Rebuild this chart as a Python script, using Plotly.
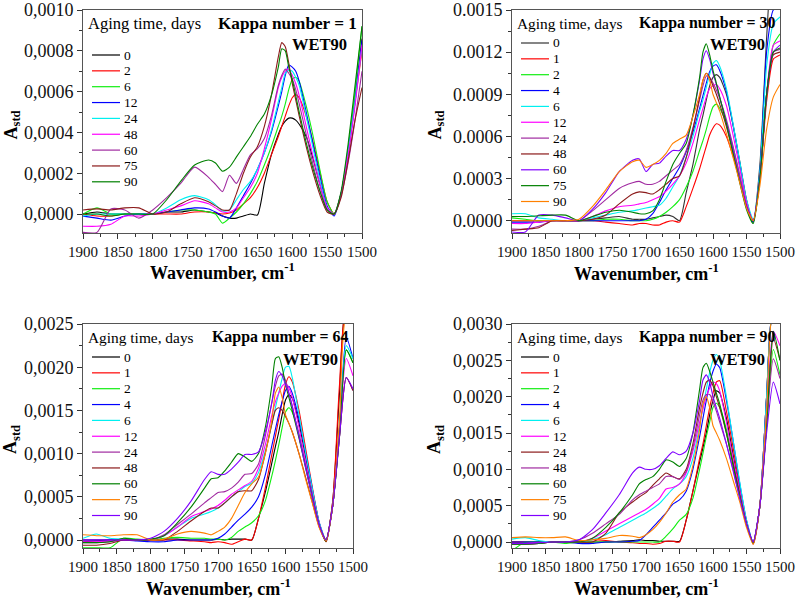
import plotly.graph_objects as go

# ---------------- data (absorbance in units of 1e-4) ----------------
WN = [1900, 1880, 1860, 1840, 1820, 1800, 1780, 1760, 1740, 1720, 1710, 1700, 1690, 1680, 1670,
      1660, 1650, 1640, 1630, 1620, 1615, 1610, 1605, 1600, 1595, 1590, 1580, 1570, 1560, 1550,
      1540, 1530, 1520, 1510, 1500]
UNIT = 1e-4

# Kappa number = 1
p1_labels = ["0", "2", "6", "12", "24", "48", "60", "75", "90"]
p1_d0 = [0, 0.1, 0, 0, 0, 0, 0.1, 0.1, 0.2, 0.1, 0.05, -0.1, -0.2, -0.2, -0.1, 0, -0.05, 1.5, 2.9, 3.9, 4.3, 4.55, 4.7, 4.7, 4.6, 4.4, 3.8, 2.7, 1.4, 0.3, 0, 1.0, 3.0, 5.6, 8.6]
p1_d2 = [0, -0.1, -0.1, 0, 0, 0, 0, 0, 0.1, 0.1, 0.05, 0, 0.05, 0.2, 0.5, 0.8, 1.3, 2.0, 2.9, 3.8, 4.3, 4.8, 5.3, 5.7, 5.85, 5.7, 4.8, 3.5, 2.0, 0.6, 0, 1.0, 3.0, 5.5, 8.0]
p1_d6 = [0, 0.3, 0, 0, 0, 0, 0.1, 0.2, 0.2, 0.1, 0, -0.45, -0.2, 0.1, 0.5, 1.0, 1.6, 2.4, 3.3, 4.3, 4.8, 5.4, 6.1, 6.6, 6.7, 6.5, 5.3, 3.8, 2.1, 0.6, 0, 1.0, 3.2, 6.0, 9.2]
p1_d12 = [-0.1, -0.2, -0.3, -0.1, 0, 0, 0.1, 0.2, 0.3, 0.25, 0.1, -0.1, -0.2, 0.3, 0.9, 1.5, 2.2, 3.0, 4.0, 5.3, 6.0, 6.8, 7.3, 7.2, 7.0, 6.5, 5.0, 3.4, 1.8, 0.4, -0.1, 1.0, 3.0, 5.5, 8.5]
p1_d24 = [-0.1, 0, 0, 0, 0, 0, 0.3, 0.7, 0.9, 0.7, 0.45, 0.15, 0.2, 0.7, 1.2, 1.6, 2.2, 3.0, 4.1, 5.5, 6.2, 6.9, 7.05, 7.0, 6.7, 6.3, 4.8, 3.2, 1.6, 0.3, 0, 1.0, 3.0, 5.5, 8.2]
p1_d48 = [-0.6, -0.6, -0.5, -0.1, -0.1, 0, 0.2, 0.4, 0.65, 0.5, 0.3, 0.1, 0.1, 0.3, 0.8, 1.3, 2.0, 3.2, 4.6, 6.2, 6.7, 7.0, 7.1, 6.8, 6.4, 5.8, 4.3, 2.8, 1.4, 0.3, 0, 1.0, 2.9, 5.3, 8.3]
p1_d60 = [-0.9, -0.9, 0.25, 0.2, -0.2, 0.2, 0.8, 1.5, 2.3, 1.8, 1.45, 1.1, 1.9, 1.5, 2.2, 2.9, 3.2, 3.7, 4.8, 6.3, 6.8, 7.1, 6.9, 6.6, 6.1, 5.4, 3.9, 2.4, 1.1, 0.2, 0, 0.9, 2.5, 4.6, 7.0]
p1_d75 = [0.2, 0.25, 0.2, 0.3, 0.3, 0, 0.1, 0.5, 0.8, 0.6, 0.4, 0.2, 0.2, 1.0, 2.0, 2.8, 3.3, 4.3, 5.8, 7.7, 8.4, 8.2, 7.4, 6.4, 5.6, 4.8, 3.3, 2.0, 0.9, 0.1, 0, 0.8, 2.6, 4.6, 6.2]
p1_d90 = [0, 0, -0.1, 0, 0, 0, 0.7, 1.6, 2.4, 2.65, 2.5, 2.1, 2.3, 2.8, 3.3, 3.8, 4.4, 4.9, 5.8, 7.2, 8.1, 8.0, 7.2, 6.6, 5.8, 5.0, 3.5, 2.2, 1.1, 0.2, 0, 1.1, 3.4, 6.3, 9.2]

# Kappa number = 30
p2_labels = ["0", "1", "2", "4", "6", "12", "24", "48", "60", "75", "90"]
p2_d0 = [0, 0, 0, 0, 0, 0, 0.1, 0.2, 0.3, 0.1, 0.1, 0.1, 0.2, 0.3, 0.4, 0.3, 0, 2.0, 4.0, 6.5, 7.5, 8.6, 9.6, 10.2, 10.4, 10.2, 9.0, 6.8, 4.2, 1.5, -0.1, 4.0, 13.0, 20.0, 22.0]
p2_d1 = [0, 0, 0, 0, 0, 0, 0, -0.1, -0.2, -0.3, -0.2, -0.2, -0.3, -0.3, -0.1, 0, -0.1, 1.0, 2.3, 3.7, 4.5, 5.3, 6.1, 6.6, 6.9, 6.8, 6.0, 4.6, 2.9, 1.0, 0, 3.0, 8.5, 11.5, 11.8]
p2_d2 = [0.2, 0.1, 0, 0, 0, 0, 0, 0.1, 0.1, 0, 0, 0, 0.1, 0.3, 0.6, 1.0, 1.5, 2.4, 3.5, 5.0, 5.7, 6.5, 7.4, 8.1, 8.3, 8.0, 6.9, 5.2, 3.2, 1.1, -0.1, 3.0, 9.0, 12.5, 13.3]
p2_d4 = [-0.1, -0.1, -0.1, 0, 0, 0, 0, 0, 0, 0, 0, 0.1, 0.5, 1.3, 2.2, 3.0, 3.8, 4.9, 6.3, 8.0, 8.9, 9.8, 10.6, 11.0, 11.1, 10.7, 9.2, 6.8, 4.1, 1.4, -0.1, 3.5, 12.0, 15.0, 15.2]
p2_d6 = [0.5, 0.5, 0.2, 0.1, 0, 0, 0.2, 0.4, 0.6, 0.7, 0.8, 0.9, 1.0, 1.1, 1.6, 2.4, 3.2, 4.5, 6.0, 7.8, 8.6, 9.5, 10.4, 11.2, 11.4, 11.0, 9.4, 6.9, 4.2, 1.5, 0.1, 3.5, 11.0, 14.0, 14.5]
p2_d12 = [-0.2, -0.2, -0.1, 0, 0, 0, 0.3, 0.7, 1.0, 1.1, 1.2, 1.3, 1.5, 1.7, 2.1, 2.6, 3.2, 4.1, 5.5, 7.2, 8.0, 8.8, 9.4, 9.6, 9.7, 9.4, 8.2, 6.1, 3.7, 1.3, 0, 3.0, 9.0, 12.5, 12.8]
p2_d24 = [-0.6, -0.6, -0.4, 0, 0, 0, 0.7, 1.5, 2.3, 2.7, 2.8, 2.6, 2.6, 2.8, 3.2, 3.6, 4.0, 5.0, 6.6, 8.6, 9.6, 10.3, 10.2, 9.8, 9.3, 8.7, 7.2, 5.3, 3.2, 1.1, 0, 3.0, 9.0, 12.0, 12.2]
p2_d48 = [-0.7, -0.6, -0.5, 0, 0, 0, 0.1, 0.4, 1.2, 1.9, 2.05, 2.0, 1.9, 2.2, 2.6, 3.0, 3.2, 4.5, 6.5, 8.8, 10.0, 10.5, 10.2, 9.6, 9.0, 8.3, 6.7, 4.8, 2.8, 1.0, 0, 3.0, 9.0, 11.8, 12.0]
p2_d60 = [-0.8, -0.8, 0.4, 0.4, 0.2, 0, 0.8, 2.0, 3.5, 4.3, 4.4, 3.5, 4.0, 4.1, 4.6, 5.0, 5.0, 5.8, 7.5, 10.0, 11.5, 12.1, 11.5, 10.5, 9.7, 8.8, 7.0, 5.0, 2.9, 1.0, 0, 3.0, 9.0, 12.0, 12.5]
p2_d75 = [0.3, 0.3, 0.35, 0.4, 0.4, 0, 0.3, 0.6, 0.75, 0.6, 0.5, 0.5, 0.7, 1.5, 2.8, 4.0, 4.8, 5.5, 7.5, 10.2, 12.0, 12.6, 11.8, 10.7, 9.8, 8.8, 6.9, 4.8, 2.7, 0.8, -0.2, 3.0, 9.0, 12.0, 12.3]
p2_d90 = [0, 0, 0, 0, 0, 0.1, 1.0, 2.2, 3.5, 4.2, 4.3, 3.8, 4.0, 4.3, 4.8, 5.5, 5.8, 6.1, 7.4, 9.0, 10.0, 10.5, 10.0, 9.0, 8.4, 7.8, 6.2, 4.5, 2.7, 0.9, 0, 2.5, 6.5, 8.8, 9.7]

# Kappa number = 64
p3_labels = ["0", "1", "2", "4", "6", "12", "24", "48", "60", "75", "90"]
p3_d0 = [-0.2, -0.1, 0, 0, 0, 0, 0.1, 0.1, 0, 0, 0, 0.1, 0, 0.1, 0.1, 0.1, 0, 2.5, 5.5, 9.0, 10.8, 12.5, 14.5, 16.2, 16.8, 16.4, 13.5, 9.5, 5.5, 1.8, -0.2, 4.5, 17.0, 27.0, 27.0]
p3_d1 = [0, 0, 0, 0, 0, 0, 0, 0, -0.1, -0.2, -0.3, -0.2, -0.3, -0.5, -0.2, 0.1, 0, 2.5, 6.0, 10.0, 12.0, 14.0, 16.0, 18.0, 18.9, 18.3, 15.0, 10.5, 6.0, 2.0, -0.2, 4.5, 18.0, 27.0, 27.0]
p3_d2 = [-0.9, -0.9, -0.9, 0.2, 0.1, 0, 0.2, 0.3, 0.2, 0.2, 0.1, 0.1, 0, 0.3, 1.0, 1.5, 2.0, 2.8, 4.5, 7.5, 9.2, 11.0, 13.0, 14.8, 15.3, 14.8, 12.3, 8.6, 5.0, 1.7, -0.1, 4.0, 13.0, 22.0, 20.5]
p3_d4 = [0, 0, 0, 0, -0.1, -0.2, -0.2, 0, 0, 0, 0, 0.2, 0.7, 1.5, 2.3, 3.0, 3.8, 5.0, 7.5, 11.0, 12.8, 14.5, 16.0, 17.3, 17.8, 17.0, 14.0, 10.0, 5.8, 2.0, 0, 4.0, 13.0, 23.5, 21.0]
p3_d6 = [0.2, 0.7, 0.2, 0.1, 0, 0, 0.5, 1.5, 2.5, 3.0, 3.3, 3.7, 4.3, 5.0, 5.6, 6.2, 6.6, 7.8, 10.3, 13.5, 15.3, 17.0, 18.7, 20.0, 20.1, 18.8, 14.5, 10.0, 5.8, 2.0, 0, 4.0, 13.0, 22.5, 21.0]
p3_d12 = [-0.2, -0.2, -0.1, 0, 0, 0, 0.5, 1.5, 2.7, 3.3, 3.6, 4.0, 4.6, 5.3, 5.8, 6.3, 6.8, 8.3, 11.0, 14.5, 16.0, 17.0, 17.8, 18.1, 17.6, 16.5, 13.0, 9.0, 5.2, 1.8, 0, 4.0, 13.0, 21.0, 19.0]
p3_d24 = [-0.3, -0.3, -0.2, 0, 0, 0, 0.6, 1.8, 3.0, 4.3, 4.9, 5.5, 5.6, 6.0, 6.7, 7.6, 7.7, 8.8, 12.0, 16.0, 17.8, 19.0, 19.2, 18.5, 17.0, 15.5, 12.0, 8.5, 5.0, 1.7, 0, 4.0, 12.0, 18.8, 17.3]
p3_d48 = [-0.6, -0.6, -0.4, 0, 0, 0, 0, 1.0, 2.2, 3.3, 3.7, 3.7, 4.3, 5.0, 5.6, 5.7, 5.7, 7.0, 10.0, 13.5, 15.0, 15.3, 15.0, 14.3, 13.5, 12.5, 10.0, 7.2, 4.3, 1.5, 0, 4.0, 12.0, 18.8, 17.3]
p3_d60 = [-0.3, -0.3, -0.2, 0.2, 0, 0.1, 0.5, 2.0, 3.8, 6.0, 7.1, 7.2, 8.0, 9.0, 10.0, 9.6, 9.1, 10.0, 13.0, 18.0, 21.0, 21.2, 20.0, 18.0, 16.5, 15.0, 11.8, 8.3, 4.9, 1.7, -0.1, 4.0, 12.0, 22.0, 20.5]
p3_d75 = [0.6, 0.5, 0.5, 0.6, 0.6, 0, 0.1, 0.7, 1.0, 0.8, 0.6, 1.0, 1.5, 2.5, 4.0, 5.5, 6.5, 7.3, 10.0, 14.0, 17.0, 17.7, 16.5, 14.5, 13.5, 12.5, 10.0, 7.0, 4.2, 1.4, -0.1, 4.0, 14.0, 26.0, 26.0]
p3_d90 = [0, 0, 0, 0, 0, 0.2, 1.0, 2.5, 4.5, 7.0, 7.9, 7.6, 7.6, 8.2, 9.0, 9.9, 9.9, 10.2, 12.5, 16.0, 18.5, 19.5, 19.0, 18.0, 17.0, 15.5, 12.0, 8.3, 4.8, 1.7, 0, 4.0, 12.0, 18.8, 17.5]

# Kappa number = 90
p4_labels = ["0", "1", "2", "4", "6", "12", "24", "48", "60", "75", "90"]
p4_d0 = [0, 0, 0, 0, 0, 0, 0, 0, 0.1, 0.2, 0.3, 0.2, 0.2, 0.1, 0.1, 0.1, 0.1, 3.0, 7.0, 11.0, 13.0, 15.0, 17.5, 19.5, 20.8, 20.5, 17.0, 12.0, 7.0, 2.5, 0, 5.0, 20.0, 32.0, 32.0]
p4_d1 = [0, 0, 0, 0, 0, 0, 0.3, 0.2, 0, -0.1, -0.2, -0.2, -0.3, -0.2, 0.1, 0.1, 0, 3.0, 7.0, 11.5, 13.5, 16.0, 18.5, 20.5, 22.0, 22.2, 18.0, 13.0, 7.5, 2.8, -0.3, 5.0, 20.0, 32.0, 32.0]
p4_d2 = [-1.2, 0, 0, 0, -0.2, 0, 0, 0, 0, 0, 0, 0, 0, 0, 0.8, 1.8, 3.0, 3.8, 6.0, 10.0, 12.2, 14.5, 16.5, 18.5, 19.1, 18.5, 15.5, 11.0, 6.5, 2.5, -0.1, 5.0, 16.0, 26.5, 23.0]
p4_d4 = [0, 0, 0, 0, 0, -0.2, -0.2, 0, 0, 0.1, 0.2, 1.0, 2.0, 3.0, 4.0, 5.2, 5.8, 7.0, 10.0, 14.5, 17.0, 19.5, 21.8, 23.5, 24.5, 24.0, 19.5, 14.0, 8.0, 3.0, 0, 5.0, 20.0, 32.0, 32.0]
p4_d6 = [0.4, 0.6, 0.2, 0, 0, 0, 0.3, 1.0, 2.0, 3.0, 3.5, 4.0, 4.6, 5.3, 6.3, 7.3, 8.0, 9.0, 11.5, 16.0, 18.5, 21.0, 23.3, 25.0, 25.8, 25.0, 20.0, 14.0, 8.2, 3.0, 0, 5.0, 20.0, 32.0, 32.0]
p4_d12 = [-0.2, -0.2, -0.1, 0, 0, 0, 0.5, 1.5, 2.5, 3.5, 4.0, 4.5, 5.2, 6.0, 7.3, 7.5, 8.0, 9.5, 12.5, 16.5, 18.3, 20.0, 21.2, 22.0, 21.8, 20.8, 16.5, 11.5, 7.0, 2.6, 0, 5.0, 18.0, 29.0, 27.0]
p4_d24 = [-0.3, -0.3, -0.2, 0, 0, 0, 0, 1.2, 4.0, 5.5, 6.2, 6.8, 7.8, 8.7, 9.5, 9.0, 8.7, 10.0, 13.5, 18.5, 20.5, 22.0, 22.3, 21.5, 20.0, 18.5, 15.0, 10.8, 6.5, 2.5, 0, 5.0, 16.0, 28.0, 25.0]
p4_d48 = [-0.3, -0.3, -0.2, 0, 0, 0.3, 1.2, 2.5, 3.8, 5.8, 6.5, 7.0, 7.5, 8.0, 9.0, 9.0, 8.6, 9.7, 13.0, 17.5, 19.5, 20.3, 20.3, 19.3, 18.0, 16.5, 13.5, 10.0, 6.0, 2.3, 0, 5.0, 16.0, 25.2, 22.5]
p4_d60 = [-0.3, -0.3, -0.2, 0, 0, 0, 0.5, 2.0, 4.0, 6.5, 8.0, 8.6, 9.0, 10.0, 11.3, 11.0, 10.4, 11.5, 15.0, 21.0, 24.0, 24.6, 23.5, 22.0, 20.5, 19.0, 15.0, 10.5, 6.3, 2.5, -0.2, 5.0, 16.0, 29.0, 25.0]
p4_d75 = [0.6, 0.7, 0.6, 0.6, 0.7, 0.2, 0.3, 0.5, 0.9, 0.8, 0.6, 1.0, 1.7, 2.7, 4.0, 5.5, 6.5, 7.3, 10.5, 15.5, 19.0, 20.0, 18.5, 16.0, 15.0, 14.0, 11.5, 8.5, 5.5, 2.0, -0.3, 5.0, 18.0, 32.0, 32.0]
p4_d90 = [-0.2, -0.2, -0.1, 0, 0, 0.3, 1.7, 4.0, 6.5, 9.5, 10.3, 10.0, 10.0, 10.5, 11.5, 12.4, 12.0, 12.5, 15.0, 19.5, 22.3, 23.0, 22.0, 20.0, 18.5, 17.0, 13.5, 9.8, 6.0, 2.5, 0, 5.0, 15.0, 22.0, 19.0]

# colours
BLACK, RED, GREEN, BLUE, CYAN, MAGENTA = "#000000", "#ff0000", "#11ee11", "#0000ff", "#00f0f0", "#ff00ff"
PURPLE, DRED, DGREEN, VIOLET, ORANGE = "#a02aa0", "#8b1a1a", "#008000", "#8000ff", "#ff8000"

panels = [
    dict(labels=p1_labels, series=[p1_d0, p1_d2, p1_d6, p1_d12, p1_d24, p1_d48, p1_d60, p1_d75, p1_d90],
         colors=[BLACK, RED, GREEN, BLUE, CYAN, MAGENTA, PURPLE, DRED, DGREEN],
         kappa="1", yr=[-0.000093, 0.0010], yt=[0, 0.0002, 0.0004, 0.0006, 0.0008, 0.0010],
         ytext=["0,0000", "0,0002", "0,0004", "0,0006", "0,0008", "0,0010"], ym=0.0001,
         box=(83, 362, 10, 233), xtitle_y=271, ytitle_x=12, fs_age=16.5, fs_kappa=17.2),
    dict(labels=p2_labels, series=[p2_d0, p2_d1, p2_d2, p2_d4, p2_d6, p2_d12, p2_d24, p2_d48, p2_d60, p2_d75, p2_d90],
         colors=["#333333", RED, GREEN, BLUE, CYAN, MAGENTA, PURPLE, DRED, VIOLET, DGREEN, ORANGE],
         kappa="30", yr=[-0.0000874, 0.0015], yt=[0, 0.0003, 0.0006, 0.0009, 0.0012, 0.0015],
         ytext=["0.0000", "0.0003", "0.0006", "0.0009", "0.0012", "0.0015"], ym=0.00015,
         box=(512, 780, 10, 233), xtitle_y=272, ytitle_x=436, fs_age=15.4, fs_kappa=15.9),
    dict(labels=p3_labels, series=[p3_d0, p3_d1, p3_d2, p3_d4, p3_d6, p3_d12, p3_d24, p3_d48, p3_d60, p3_d75, p3_d90],
         colors=[BLACK, RED, GREEN, BLUE, CYAN, MAGENTA, PURPLE, DRED, DGREEN, ORANGE, VIOLET],
         kappa="64", yr=[-0.0000926, 0.0025], yt=[0, 0.0005, 0.0010, 0.0015, 0.0020, 0.0025],
         ytext=["0,0000", "0,0005", "0,0010", "0,0015", "0,0020", "0,0025"], ym=0.00025,
         box=(83, 353, 324, 548), xtitle_y=587, ytitle_x=12, fs_age=15.4, fs_kappa=15.9),
    dict(labels=p4_labels, series=[p4_d0, p4_d1, p4_d2, p4_d4, p4_d6, p4_d12, p4_d24, p4_d48, p4_d60, p4_d75, p4_d90],
         colors=[BLACK, RED, GREEN, BLUE, CYAN, MAGENTA, DRED, PURPLE, DGREEN, ORANGE, VIOLET],
         kappa="90", yr=[-0.0000826, 0.0030], yt=[0, 0.0005, 0.0010, 0.0015, 0.0020, 0.0025, 0.0030],
         ytext=["0,0000", "0,0005", "0,0010", "0,0015", "0,0020", "0,0025", "0,0030"], ym=0.00025,
         box=(512, 780, 324, 548), xtitle_y=587, ytitle_x=436, fs_age=15.4, fs_kappa=15.9),
]

W, H = 796, 600
SERIF = "Liberation Serif"


def fx(px):
    return px / W


def fy(py):
    return 1 - py / H


fig = go.Figure()
shapes, annotations = [], []
XT = [1900, 1850, 1800, 1750, 1700, 1650, 1600, 1550, 1500]
XM = list(range(1900, 1499, -25))

for i, p in enumerate(panels):
    n = "" if i == 0 else str(i + 1)
    x0, x1, y0, y1 = p["box"]
    for lab, ser, col in zip(p["labels"], p["series"], p["colors"]):
        fig.add_trace(go.Scatter(
            x=WN, y=[v * UNIT for v in ser], mode="lines", name=lab, showlegend=False,
            line=dict(color=col, width=1.1, shape="spline", smoothing=0.6),
            xaxis="x" + n, yaxis="y" + n, hoverinfo="skip"))
    ymin = [k * p["ym"] for k in range(0, int(round(p["yr"][1] / p["ym"])) + 1)]
    fig.layout["xaxis" + n] = dict(
        domain=[fx(x0), fx(x1)], anchor="y" + n, range=[1900, 1500], automargin=False,
        tickmode="array", tickvals=XT, ticktext=[str(t) for t in XT],
        ticks="outside", ticklen=5, tickwidth=1, tickcolor="#333",
        minor=dict(tickmode="array", tickvals=XM, ticks="outside", ticklen=3, tickcolor="#333"),
        showline=True, mirror=True, linecolor="#555", linewidth=1, showgrid=False, zeroline=False,
        tickfont=dict(family=SERIF, size=15, color="#111"))
    fig.layout["yaxis" + n] = dict(
        domain=[fy(y1), fy(y0)], anchor="x" + n, range=p["yr"], automargin=False,
        tickmode="array", tickvals=p["yt"], ticktext=p["ytext"],
        ticks="outside", ticklen=5, tickwidth=1, tickcolor="#333",
        minor=dict(tickmode="array", tickvals=ymin, ticks="outside", ticklen=3, tickcolor="#333"),
        showline=True, mirror=True, linecolor="#555", linewidth=1, showgrid=False, zeroline=False,
        tickfont=dict(family=SERIF, size=18, color="#111"))

    # axis titles
    annotations.append(dict(x=fx((x0 + x1) / 2), y=fy(p["xtitle_y"]), xref="paper", yref="paper",
                            text="<b>Wavenumber, cm<sup>-1</sup></b>", showarrow=False,
                            font=dict(family=SERIF, size=18, color="#000"), xanchor="center", yanchor="middle"))
    annotations.append(dict(x=fx(p["ytitle_x"]), y=fy((y0 + y1) / 2 + 4), xref="paper", yref="paper",
                            text="<b>A<sub>std</sub></b>", showarrow=False, textangle=-90,
                            font=dict(family=SERIF, size=18, color="#000"), xanchor="center", yanchor="middle"))
    # in-plot texts
    annotations.append(dict(x=fx(x0 + 3), y=fy(y0 + 13), xref="paper", yref="paper",
                            text="Aging time, days", showarrow=False, xanchor="left", yanchor="middle",
                            font=dict(family=SERIF, size=p["fs_age"], color="#000")))
    annotations.append(dict(x=fx(x1 - 3), y=fy(y0 + 13), xref="paper", yref="paper",
                            text="<b>Kappa number = " + p["kappa"] + "</b>", showarrow=False,
                            xanchor="right", yanchor="middle", font=dict(family=SERIF, size=p["fs_kappa"], color="#000")))
    annotations.append(dict(x=fx(x1 - 13), y=fy(y0 + 35), xref="paper", yref="paper",
                            text="<b>WET90</b>", showarrow=False,
                            xanchor="right", yanchor="middle", font=dict(family=SERIF, size=16.5, color="#000")))
    # legend (line samples + labels)
    ly0 = y0 + (45 if i == 0 else 33)
    for k, (lab, col) in enumerate(zip(p["labels"], p["colors"])):
        yy = ly0 + k * 15.85
        shapes.append(dict(type="line", xref="paper", yref="paper",
                           x0=fx(x0 + 9), x1=fx(x0 + 37), y0=fy(yy), y1=fy(yy),
                           line=dict(color=col, width=1.2)))
        annotations.append(dict(x=fx(x0 + 39), y=fy(yy), xref="paper", yref="paper", text=lab,
                                showarrow=False, xanchor="left", yanchor="middle",
                                font=dict(family=SERIF, size=13.5, color="#000")))

fig.update_layout(width=W, height=H, margin=dict(l=0, r=0, t=0, b=0, pad=0, autoexpand=False),
                  paper_bgcolor="white", plot_bgcolor="white", hovermode=False,
                  shapes=shapes, annotations=annotations, showlegend=False)
fig.write_html("out.html", config={"displayModeBar": False, "staticPlot": True},
               post_script="document.body.style.margin='0';document.body.style.overflow='hidden';")
